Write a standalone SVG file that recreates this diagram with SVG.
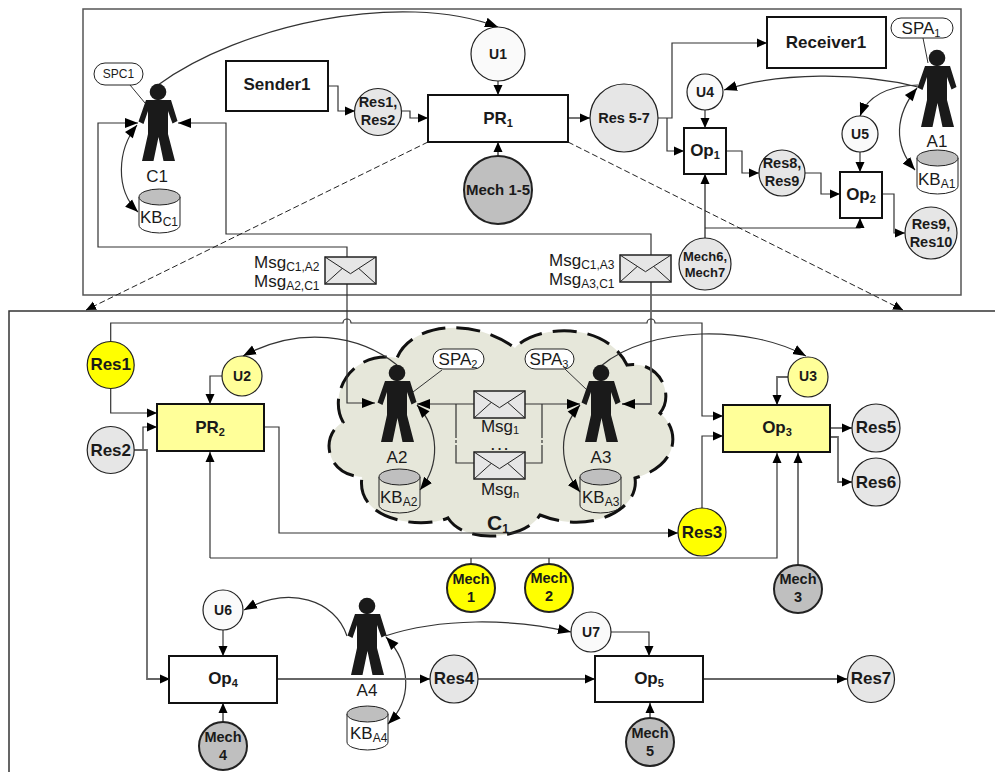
<svg xmlns="http://www.w3.org/2000/svg" width="995" height="772" viewBox="0 0 995 772">
<style>
text{font-family:"Liberation Sans",Arial,sans-serif;text-anchor:middle;fill:#1a1a1a}
.b{font-weight:bold}
.s{text-anchor:start}
.r{font-size:17px}
.sb{font-size:12px}
.bs{font-size:11px}
.u{font-size:14px;font-weight:bold}
.t2{font-size:14.500px;font-weight:bold}
.op{font-size:17px;font-weight:bold}
.rs{font-size:17px;font-weight:bold}
.me{font-size:14.500px;font-weight:bold}
.box{stroke:#111;stroke-width:2;fill:#fff}
.yb{fill:#ffff99}
.c{stroke:#222;stroke-width:1.2}
.w{fill:#fafafa}.g{fill:#e6e6e6}.y{fill:#ffff00}.ly{fill:#ffff99}.d{fill:#bfbfbf;stroke-width:2}
.pill{fill:#fff;stroke:#222;stroke-width:1}
.l{fill:none;stroke:#333;stroke-width:1.2}
.l2{fill:none;stroke:#666;stroke-width:1.8}
.a{marker-end:url(#ah)}
.A{marker-end:url(#AH)}
.AA{marker-start:url(#AS);marker-end:url(#AH)}
.dash{fill:none;stroke:#222;stroke-width:1;stroke-dasharray:6 3;marker-end:url(#ah)}
.frame{fill:none;stroke:#555;stroke-width:1.5}
</style>
<defs>
<marker id="ah" markerUnits="userSpaceOnUse" markerWidth="11" markerHeight="10" refX="10" refY="5" orient="auto"><path d="M0,0.5L10,5L0,9.5Z" fill="#000"/></marker>
<marker id="AH" markerUnits="userSpaceOnUse" markerWidth="14" markerHeight="11" refX="13" refY="5.5" orient="auto"><path d="M0,0.5L13,5.500L0,10.500Z" fill="#000"/></marker>
<marker id="AS" markerUnits="userSpaceOnUse" markerWidth="14" markerHeight="11" refX="0" refY="5.5" orient="auto"><path d="M13,0.500L0,5.500L13,10.500Z" fill="#000"/></marker>
<g id="person" fill="#1a1a1a"><circle cx="0" cy="0" r="8.300"/><path d="M-12,8H13L19.500,29L14.500,31.500L10,19V42L17,69H5.500L0.500,45L-4.500,69H-16L-10,42V19L-14.500,32L-19.500,29.500Z"/></g>
<g id="kb" stroke="#222" stroke-width="1"><path d="M0,8V36A20.500,8 0 0 0 41,36V8" fill="none"/><ellipse cx="20.500" cy="8" rx="20.500" ry="8" fill="#bfbfbf"/></g>
<g id="env"><rect width="51" height="27" fill="#e6e6e6" stroke="#222" stroke-width="1.500"/><path d="M0,0L25.500,16.700L51,0M0,27L17,11.700M51,27L34,11.700" fill="none" stroke="#222" stroke-width="1"/></g>
</defs>
<rect width="995" height="772" fill="#fff"/>
<rect class="frame" x="83" y="9" width="878" height="286"/>
<path class="frame" style="stroke:#333" d="M9,772V311H995"/>
<path id="cloud" d="M343,422C328,395 350,350 397,358C410,325 470,315 515,348C535,325 605,320 627,365C660,360 675,395 660,413C680,430 680,465 635,478C640,510 590,535 540,515C525,540 465,545 448,518C420,530 355,520 362,477C325,475 320,435 343,422Z" fill="#e6e7da" stroke="#111" stroke-width="3" stroke-dasharray="24 11"/>
<g id="connectors">
<path class="l A" d="M158,85C240,25 400,-10 498,27"/>
<path class="l a" d="M328,86H338V111H355"/>
<path class="l a" d="M401,111H410V118H428"/>
<path class="l a" d="M498,81V95"/>
<path class="l2 a" d="M498,156V142"/>
<path class="l2 a" d="M568,118H590"/>
<path class="l a" d="M658,118H672V43H767"/>
<path class="l a" d="M667,118V151H684"/>
<path class="l a" d="M705,110V128"/>
<path class="l2 a" d="M705,238V174"/>
<path class="l a" d="M705,228H860V218"/>
<path class="l a" d="M860,152V172"/>
<path class="l a" d="M726,151H742V173H759"/>
<path class="l a" d="M805,173H821V194H840"/>
<path class="l a" d="M882,194H894V233H905"/>
<path class="l A" d="M918,87C860,72 780,72 724,90"/>
<path class="l A" d="M918,85C890,86 868,95 860,116"/>
<path class="l AA" d="M917,88C895,115 893,145 915,170"/>
<path class="l AA" d="M137,125C117,150 115,190 138,212"/>
<path class="l A" d="M347,257V247H98V123H138"/>
<path class="l A" d="M651,255V234H226V123H178"/>
<path class="l A" d="M347,284V403H375"/>
<path class="l2 A" d="M651,282V404H622"/>
<path class="dash" d="M428,142L86,310"/>
<path class="dash" d="M568,142L903,310"/>
<path class="l a" d="M110.700,341V323H343A4,4 0 0 1 351,323H647A4,4 0 0 1 655,323H702V416H723"/>
<path class="l a" d="M110.700,388V413H157"/>
<path class="l a" d="M134,450H143V427H157"/>
<path class="l2 a" d="M134,450H147V679H170"/>
<path class="l a" d="M222,376H210V404"/>
<path class="l A" d="M397,365C360,335 300,325 243,356"/>
<path class="l a" d="M264,427H279V533H678"/>
<path class="l a" d="M702,508V436H723"/>
<path class="l a" d="M210,558V452"/>
<path class="l a" d="M210,558H777V453"/>
<path class="l" d="M471,558V564M549,558V564"/>
<path class="l2 a" d="M798,565V453"/>
<path class="l2 a" d="M788,377H777V405"/>
<path class="l2 a" d="M830,428H852"/>
<path class="l2 a" d="M830,437H838V482H852"/>
<path class="l A" d="M474,404H417"/>
<path class="l A" d="M525,404H580"/>
<path class="l" d="M456,404V435M456,448V463H474M542,404V435M542,448V463H526"/>
<path class="l" style="stroke-dasharray:3 2" d="M456,435V448M542,435V448"/>
<path class="l AA" d="M417,405C440,430 440,465 420,490"/>
<path class="l AA" d="M580,405C558,430 558,465 580,492"/>
<path class="l A" d="M601,366C650,325 750,325 806,356"/>
<path class="l A" d="M347,636C335,600 290,585 244,610"/>
<path class="l A" d="M385,636C440,618 510,618 571,632"/>
<path class="l AA" d="M386,637C412,665 412,700 388,724"/>
<path class="l a" d="M223,630V656"/>
<path class="l2 a" d="M223,722V703"/>
<path class="l2 a" d="M277,679H430"/>
<path class="l2 a" d="M478,679H595"/>
<path class="l a" d="M611,632H649V656"/>
<path class="l2 a" d="M650,718V703"/>
<path class="l2 a" d="M703,679H847"/>
<path class="l" style="stroke-width:1" d="M130,85L145,103M923,38L928,63M442,370L413,392M565,369L587,390"/>
</g>
<g id="C1"><use href="#person" x="158" y="92"/><text class="r" x="157" y="182">C1</text></g>
<g id="KB_C1"><use href="#kb" x="139" y="189"/><text class="r s" x="140" y="223">KB<tspan class="sb" dy="3">C1</tspan></text></g>
<g id="SPC1"><rect class="pill" x="94" y="63" width="49" height="22" rx="11"/><text x="118.500" y="78" font-size="12">SPC1</text></g>
<g id="U1"><circle class="c w" cx="498" cy="54" r="27"/><text class="u" x="498" y="59">U1</text></g>
<g id="Sender1"><rect class="box" x="226" y="61" width="102" height="50"/><text class="b" font-size="17" x="277" y="90">Sender1</text></g>
<g id="Res12"><circle class="c g" cx="378" cy="112" r="23.500"/><text class="t2" x="378" y="107">Res1,</text><text class="t2" x="378" y="125">Res2</text></g>
<g id="PR1"><rect class="box" x="428" y="95" width="140" height="47"/><text class="op" x="498" y="124">PR<tspan class="bs" dy="3">1</tspan></text></g>
<g id="Mech15"><circle class="c d" cx="498" cy="190" r="34"/><text class="b" font-size="15" x="498" y="194.500">Mech 1-5</text></g>
<g id="Res57"><circle class="c g" cx="624" cy="118" r="34"/><text class="b" font-size="14.500" x="624" y="123">Res 5-7</text></g>
<g id="Receiver1"><rect class="box" x="767" y="17" width="119" height="51"/><text class="b" font-size="17" x="826" y="48">Receiver1</text></g>
<g id="A1"><use href="#person" x="937" y="58"/><text class="r" x="937" y="147">A1</text></g>
<g id="SPA1"><rect class="pill" x="891" y="18" width="62" height="20" rx="10"/><text class="r" x="921" y="34">SPA<tspan class="bs" dy="3">1</tspan></text></g>
<g id="KB_A1"><use href="#kb" x="917" y="150"/><text class="r s" x="918" y="185">KB<tspan class="sb" dy="3">A1</tspan></text></g>
<g id="U4"><circle class="c w" cx="705" cy="92" r="18"/><text class="u" x="705" y="97">U4</text></g>
<g id="Op1"><rect class="box" x="684" y="128" width="42" height="46"/><text class="op" x="705" y="156">Op<tspan class="bs" dy="3">1</tspan></text></g>
<g id="U5"><circle class="c w" cx="860" cy="134" r="18"/><text class="u" x="860" y="139">U5</text></g>
<g id="Res89"><circle class="c g" cx="782" cy="173" r="23"/><text class="t2" x="782" y="168">Res8,</text><text class="t2" x="782" y="186">Res9</text></g>
<g id="Op2"><rect class="box" x="840" y="172" width="42" height="46"/><text class="op" x="861" y="200">Op<tspan class="bs" dy="3">2</tspan></text></g>
<g id="Res910"><circle class="c g" cx="931" cy="233" r="26"/><text class="t2" x="931" y="229">Res9,</text><text class="t2" x="931" y="247">Res10</text></g>
<g id="Mech67"><circle class="c g" cx="705" cy="264" r="26"/><text class="b" font-size="13" x="705" y="261">Mech6,</text><text class="b" font-size="13" x="705" y="277">Mech7</text></g>
<g id="EnvC1A2"><use href="#env" x="325" y="257"/><text class="r s" x="254" y="268">Msg<tspan class="sb" dy="3">C1,A2</tspan></text><text class="r s" x="254" y="287">Msg<tspan class="sb" dy="3">A2,C1</tspan></text></g>
<g id="EnvC1A3"><use href="#env" x="620" y="255"/><text class="r s" x="549" y="266">Msg<tspan class="sb" dy="3">C1,A3</tspan></text><text class="r s" x="549" y="285">Msg<tspan class="sb" dy="3">A3,C1</tspan></text></g>
<g id="Res1"><circle class="c y" cx="110.700" cy="365" r="23.500"/><text class="rs" x="110.700" y="370">Res1</text></g>
<g id="Res2"><circle class="c g" cx="110.700" cy="450" r="23.500"/><text class="rs" x="110.700" y="456">Res2</text></g>
<g id="U2"><circle class="c ly" cx="242" cy="376" r="20"/><text class="u" x="242" y="381">U2</text></g>
<g id="PR2"><rect class="box yb" x="157" y="404" width="107" height="47"/><text class="op" x="210" y="433">PR<tspan class="bs" dy="3">2</tspan></text></g>
<g id="A2"><use href="#person" x="397" y="373"/><text class="r" x="397" y="463">A2</text></g>
<g id="SPA2"><rect class="pill" x="433" y="349" width="51" height="20" rx="10"/><text class="r" x="458" y="365">SPA<tspan class="bs" dy="3">2</tspan></text></g>
<g id="KB_A2"><use href="#kb" x="379" y="469"/><text class="r s" x="380" y="503">KB<tspan class="sb" dy="3">A2</tspan></text></g>
<g id="A3"><use href="#person" x="601" y="373"/><text class="r" x="601" y="463">A3</text></g>
<g id="SPA3"><rect class="pill" x="525" y="349" width="49" height="20" rx="10"/><text class="r" x="549" y="365">SPA<tspan class="bs" dy="3">3</tspan></text></g>
<g id="KB_A3"><use href="#kb" x="580" y="469"/><text class="r s" x="582" y="503">KB<tspan class="sb" dy="3">A3</tspan></text></g>
<g id="Msg1"><use href="#env" x="474" y="391"/><text class="r" x="500" y="432">Msg<tspan class="bs" dy="2">1</tspan></text></g>
<text class="b" font-size="13" letter-spacing="3" x="501" y="450">...</text>
<g id="Msgn"><use href="#env" x="474" y="452"/><text class="r" x="500" y="495">Msg<tspan class="bs" dy="3">n</tspan></text></g>
<text class="b" x="498" y="530" font-size="21">C<tspan font-size="12" dy="3">1</tspan></text>
<g id="U3"><circle class="c ly" cx="808" cy="377" r="20"/><text class="u" x="808" y="381">U3</text></g>
<g id="Op3"><rect class="box yb" x="723" y="405" width="107" height="47"/><text class="op" x="777" y="433">Op<tspan class="bs" dy="3">3</tspan></text></g>
<g id="Res5"><circle class="c g" cx="876" cy="428" r="24"/><text class="rs" x="876" y="433">Res5</text></g>
<g id="Res6"><circle class="c g" cx="876" cy="482" r="24"/><text class="rs" x="876" y="488">Res6</text></g>
<g id="Res3"><circle class="c y" cx="702" cy="532" r="24"/><text class="rs" x="702" y="538">Res3</text></g>
<g id="Mech1"><circle class="c y" cx="471" cy="588" r="24" style="stroke-width:2"/><text class="me" x="471" y="584">Mech</text><text class="me" x="471" y="602">1</text></g>
<g id="Mech2"><circle class="c y" cx="549" cy="588" r="24" style="stroke-width:2"/><text class="me" x="549" y="583">Mech</text><text class="me" x="549" y="601">2</text></g>
<g id="Mech3"><circle class="c d" cx="798" cy="589" r="24"/><text class="me" x="798" y="584">Mech</text><text class="me" x="798" y="602">3</text></g>
<g id="U6"><circle class="c w" cx="223" cy="610" r="20"/><text class="u" x="223" y="615">U6</text></g>
<g id="Op4"><rect class="box" x="169" y="656" width="108" height="47"/><text class="op" x="223" y="684">Op<tspan class="bs" dy="3">4</tspan></text></g>
<g id="Mech4"><circle class="c d" cx="223" cy="746" r="24"/><text class="me" x="223" y="742">Mech</text><text class="me" x="223" y="760">4</text></g>
<g id="A4"><use href="#person" x="367" y="606"/><text class="r" x="367" y="696">A4</text></g>
<g id="KB_A4"><use href="#kb" x="347" y="706"/><text class="r s" x="350" y="739">KB<tspan class="sb" dy="3">A4</tspan></text></g>
<g id="Res4"><circle class="c g" cx="454" cy="679" r="24"/><text class="rs" x="454" y="684">Res4</text></g>
<g id="U7"><circle class="c w" cx="591" cy="632" r="20"/><text class="u" x="591" y="637">U7</text></g>
<g id="Op5"><rect class="box" x="595" y="656" width="108" height="46"/><text class="op" x="649" y="684">Op<tspan class="bs" dy="3">5</tspan></text></g>
<g id="Mech5"><circle class="c d" cx="650" cy="742" r="24"/><text class="me" x="650" y="738">Mech</text><text class="me" x="650" y="756">5</text></g>
<g id="Res7"><circle class="c g" cx="871" cy="679" r="23.500"/><text class="rs" x="871" y="684">Res7</text></g>
</svg>
